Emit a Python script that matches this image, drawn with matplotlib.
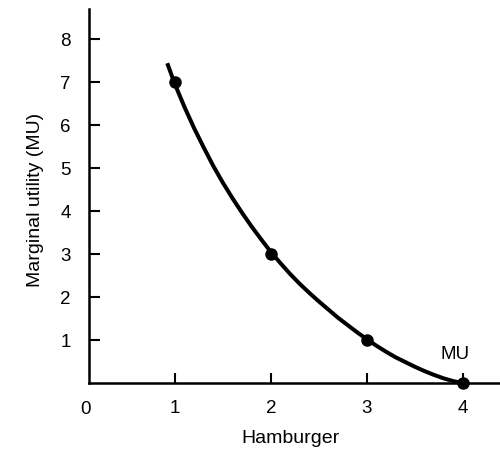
import matplotlib.pyplot as plt

plt.rcParams['font.family'] = ['Liberation Sans', 'DejaVu Sans']

# points
hamburgers = [1, 2, 3, 4]
marginal_utility = [7, 3, 1, 0]

# hand-drawn MU curve
curve_x = [0.92, 1.0, 1.1, 1.2, 1.3, 1.4, 1.5, 1.6, 1.7, 1.8, 1.9, 2.0,
           2.1, 2.2, 2.3, 2.4, 2.5, 2.6, 2.7, 2.8, 2.9, 3.0,
           3.1, 3.2, 3.3, 3.4, 3.5, 3.6, 3.7, 3.8, 3.9, 4.0]
curve_y = [7.44, 6.95, 6.42, 5.93, 5.48, 5.05, 4.66, 4.30, 3.96, 3.64, 3.34, 3.05,
           2.79, 2.54, 2.31, 2.10, 1.90, 1.71, 1.52, 1.35, 1.18, 1.02,
           0.87, 0.73, 0.60, 0.49, 0.38, 0.28, 0.19, 0.11, 0.045, 0.0]

x_ticks = [1, 2, 3, 4]
y_ticks = [1, 2, 3, 4, 5, 6, 7, 8]

fig = plt.figure(figsize=(5, 4.53), dpi=100)
ax = fig.add_axes([0.178, 0.1545, 0.822, 0.8255])

ax.plot(curve_x, curve_y, color='black', lw=2.9, solid_capstyle='butt',
        solid_joinstyle='round', clip_on=False, zorder=3)
ax.plot(hamburgers, marginal_utility, 'o', color='black', ms=8,
        clip_on=False, zorder=4)

ax.set_xlim(0.104, 4.39)
ax.set_ylim(0, 8.7)

for side in ['top', 'right']:
    ax.spines[side].set_visible(False)
for side in ['left', 'bottom']:
    ax.spines[side].set_linewidth(1.8)

ax.set_xticks(x_ticks)
ax.set_yticks(y_ticks)
ax.tick_params(axis='x', direction='in', length=7, width=1.5, pad=12.5, labelsize=13.5)
ax.tick_params(axis='y', direction='in', length=8, width=1.5, pad=13, labelsize=13.5)

# origin label sits a bit left of the y axis
ax.text(0.07, -0.048, '0', transform=ax.get_xaxis_transform(),
        ha='center', va='top', fontsize=13.5)

ax.text(3.92, 0.66, 'MU', ha='center', va='center', fontsize=13.5)

ax.set_xlabel('Hamburger', fontsize=14)
ax.xaxis.set_label_coords(0.49, -0.126)
ax.set_ylabel('Marginal utility (MU)', fontsize=14)
ax.yaxis.set_label_coords(-0.11, 0.49)

fig.savefig('out.png', dpi=100)
